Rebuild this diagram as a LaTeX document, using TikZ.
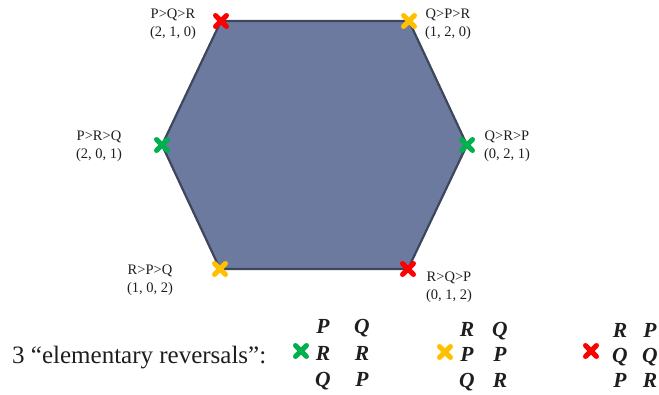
\documentclass[tikz,border=0pt]{standalone}
\usepackage{fontspec}
\setmainfont{Liberation Serif}
\usetikzlibrary{shapes.misc}
\definecolor{hexfill}{RGB}{108,122,160}
\definecolor{hexline}{RGB}{62,70,92}
\definecolor{mred}{RGB}{255,0,0}
\definecolor{myel}{RGB}{255,192,0}
\definecolor{mgrn}{RGB}{0,176,80}
\definecolor{txt}{RGB}{30,30,30}
\begin{document}
\begin{tikzpicture}[x=1pt,y=-1pt,
  mk/.style={cross out, draw=#1, line width=5pt, line cap=round, minimum size=6pt, inner sep=0pt},
  lbl/.style={align=center, font=\fontsize{14.5}{17.5}\selectfont, text=txt, inner sep=0pt},
  let/.style={font=\fontsize{21.5}{22}\selectfont\bfseries\itshape, text=txt, inner sep=0pt, text height=14pt, text depth=0pt},
  big/.style={font=\fontsize{25}{28}\selectfont, text=txt, inner sep=0pt, anchor=base west}]
\useasboundingbox (0,0) rectangle (659,394);
% hexagon corners
\coordinate (tl) at (221,21);
\coordinate (tr) at (409,21);
\coordinate (r)  at (467,145);
\coordinate (br) at (408,269);
\coordinate (bl) at (220,269);
\coordinate (l)  at (162,145);
\draw[fill=hexfill, draw=hexline, line width=2.2pt, line join=round]
  (tl) -- (tr) -- (r) -- (br) -- (bl) -- (l) -- cycle;
% markers on corners
\node[mk=mred] (mtl) at (tl) {};
\node[mk=myel] (mtr) at (tr) {};
\node[mk=mgrn] (mr)  at (r)  {};
\node[mk=mred] (mbr) at (br) {};
\node[mk=myel] (mbl) at (bl) {};
\node[mk=mgrn] (ml)  at (l)  {};
% corner labels
\node[lbl] (ltl) at (173,24)  {P>Q>R\\(2, 1, 0)};
\node[lbl] (ltr) at (448,24)  {Q>P>R\\(1, 2, 0)};
\node[lbl] (ll)  at (99,146)  {P>R>Q\\(2, 0, 1)};
\node[lbl] (lr)  at (507,146) {Q>R>P\\(0, 2, 1)};
\node[lbl] (lbl) at (150,280) {R>P>Q\\(1, 0, 2)};
\node[lbl] (lbr) at (449,287) {R>Q>P\\(0, 1, 2)};
% bottom legend
\node[big] (title) at (12,363) {3 “elementary reversals”:};
\node[mk=mgrn] (g0) at (301,351) {};
\node[let] (g11) at (323,326) {P};
\node[let] (g12) at (362,326) {Q};
\node[let] (g21) at (323,353) {R};
\node[let] (g22) at (362,353) {R};
\node[let] (g31) at (323,379) {Q};
\node[let] (g32) at (362,379) {P};
\node[mk=myel] (y0) at (445,352) {};
\node[let] (y11) at (467,329) {R};
\node[let] (y12) at (500,329) {Q};
\node[let] (y21) at (467,354) {P};
\node[let] (y22) at (500,354) {P};
\node[let] (y31) at (467,380) {Q};
\node[let] (y32) at (500,380) {R};
\node[mk=mred] (r0) at (591,351) {};
\node[let] (r11) at (620,330) {R};
\node[let] (r12) at (650,330) {P};
\node[let] (r21) at (620,355) {Q};
\node[let] (r22) at (650,355) {Q};
\node[let] (r31) at (620,380) {P};
\node[let] (r32) at (650,380) {R};
\end{tikzpicture}
\end{document}
